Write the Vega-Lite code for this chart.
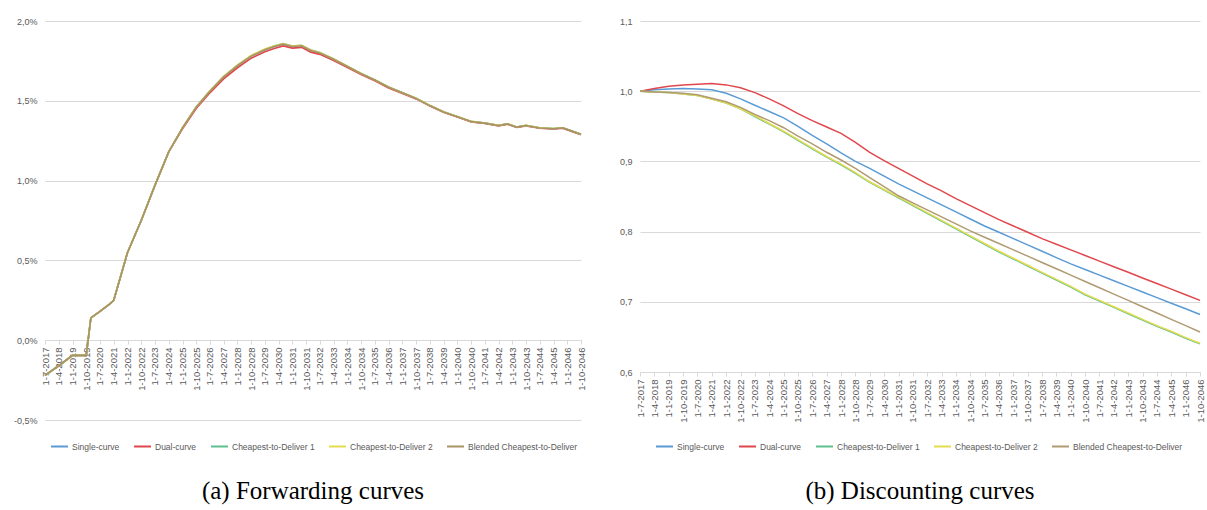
{
  "$schema": "https://vega.github.io/schema/vega-lite/v6.json",
  "background": "white",
  "padding": {"left": 13, "top": 17, "right": 4, "bottom": 2},
  "spacing": 33,
  "datasets": {
    "fwd": [
      {"date": "2017-07-01", "Single-curve": -0.22, "Dual-curve": -0.22, "Cheapest-to-Deliver 1": -0.22, "Cheapest-to-Deliver 2": -0.22, "Blended Cheapest-to-Deliver": -0.22},
      {"date": "2018-04-01", "Single-curve": -0.16, "Dual-curve": -0.16, "Cheapest-to-Deliver 1": -0.16, "Cheapest-to-Deliver 2": -0.16, "Blended Cheapest-to-Deliver": -0.16},
      {"date": "2019-01-01", "Single-curve": -0.095, "Dual-curve": -0.095, "Cheapest-to-Deliver 1": -0.095, "Cheapest-to-Deliver 2": -0.095, "Blended Cheapest-to-Deliver": -0.095},
      {"date": "2019-10-01", "Single-curve": -0.095, "Dual-curve": -0.095, "Cheapest-to-Deliver 1": -0.095, "Cheapest-to-Deliver 2": -0.095, "Blended Cheapest-to-Deliver": -0.095},
      {"date": "2020-01-01", "Single-curve": 0.14, "Dual-curve": 0.14, "Cheapest-to-Deliver 1": 0.14, "Cheapest-to-Deliver 2": 0.14, "Blended Cheapest-to-Deliver": 0.14},
      {"date": "2020-07-01", "Single-curve": 0.18, "Dual-curve": 0.18, "Cheapest-to-Deliver 1": 0.18, "Cheapest-to-Deliver 2": 0.18, "Blended Cheapest-to-Deliver": 0.18},
      {"date": "2021-01-01", "Single-curve": 0.225, "Dual-curve": 0.225, "Cheapest-to-Deliver 1": 0.225, "Cheapest-to-Deliver 2": 0.225, "Blended Cheapest-to-Deliver": 0.225},
      {"date": "2021-04-01", "Single-curve": 0.25, "Dual-curve": 0.25, "Cheapest-to-Deliver 1": 0.25, "Cheapest-to-Deliver 2": 0.25, "Blended Cheapest-to-Deliver": 0.25},
      {"date": "2022-01-01", "Single-curve": 0.55, "Dual-curve": 0.55, "Cheapest-to-Deliver 1": 0.55, "Cheapest-to-Deliver 2": 0.55, "Blended Cheapest-to-Deliver": 0.55},
      {"date": "2022-10-01", "Single-curve": 0.75, "Dual-curve": 0.75, "Cheapest-to-Deliver 1": 0.75, "Cheapest-to-Deliver 2": 0.75, "Blended Cheapest-to-Deliver": 0.75},
      {"date": "2023-07-01", "Single-curve": 0.97, "Dual-curve": 0.97, "Cheapest-to-Deliver 1": 0.97, "Cheapest-to-Deliver 2": 0.97, "Blended Cheapest-to-Deliver": 0.97},
      {"date": "2024-04-01", "Single-curve": 1.18, "Dual-curve": 1.18, "Cheapest-to-Deliver 1": 1.18, "Cheapest-to-Deliver 2": 1.18, "Blended Cheapest-to-Deliver": 1.18},
      {"date": "2025-01-01", "Single-curve": 1.33, "Dual-curve": 1.325, "Cheapest-to-Deliver 1": 1.332, "Cheapest-to-Deliver 2": 1.332, "Blended Cheapest-to-Deliver": 1.33},
      {"date": "2025-10-01", "Single-curve": 1.46, "Dual-curve": 1.452, "Cheapest-to-Deliver 1": 1.462, "Cheapest-to-Deliver 2": 1.462, "Blended Cheapest-to-Deliver": 1.46},
      {"date": "2026-07-01", "Single-curve": 1.56, "Dual-curve": 1.55, "Cheapest-to-Deliver 1": 1.562, "Cheapest-to-Deliver 2": 1.563, "Blended Cheapest-to-Deliver": 1.56},
      {"date": "2027-04-01", "Single-curve": 1.65, "Dual-curve": 1.637, "Cheapest-to-Deliver 1": 1.652, "Cheapest-to-Deliver 2": 1.653, "Blended Cheapest-to-Deliver": 1.65},
      {"date": "2028-01-01", "Single-curve": 1.72, "Dual-curve": 1.707, "Cheapest-to-Deliver 1": 1.723, "Cheapest-to-Deliver 2": 1.724, "Blended Cheapest-to-Deliver": 1.72},
      {"date": "2028-10-01", "Single-curve": 1.78, "Dual-curve": 1.767, "Cheapest-to-Deliver 1": 1.783, "Cheapest-to-Deliver 2": 1.784, "Blended Cheapest-to-Deliver": 1.78},
      {"date": "2029-07-01", "Single-curve": 1.82, "Dual-curve": 1.807, "Cheapest-to-Deliver 1": 1.823, "Cheapest-to-Deliver 2": 1.824, "Blended Cheapest-to-Deliver": 1.82},
      {"date": "2030-01-01", "Single-curve": 1.84, "Dual-curve": 1.828, "Cheapest-to-Deliver 1": 1.843, "Cheapest-to-Deliver 2": 1.844, "Blended Cheapest-to-Deliver": 1.84},
      {"date": "2030-07-01", "Single-curve": 1.855, "Dual-curve": 1.844, "Cheapest-to-Deliver 1": 1.858, "Cheapest-to-Deliver 2": 1.858, "Blended Cheapest-to-Deliver": 1.855},
      {"date": "2031-01-01", "Single-curve": 1.84, "Dual-curve": 1.83, "Cheapest-to-Deliver 1": 1.843, "Cheapest-to-Deliver 2": 1.843, "Blended Cheapest-to-Deliver": 1.84},
      {"date": "2031-07-01", "Single-curve": 1.845, "Dual-curve": 1.835, "Cheapest-to-Deliver 1": 1.848, "Cheapest-to-Deliver 2": 1.848, "Blended Cheapest-to-Deliver": 1.845},
      {"date": "2032-01-01", "Single-curve": 1.815, "Dual-curve": 1.805, "Cheapest-to-Deliver 1": 1.818, "Cheapest-to-Deliver 2": 1.818, "Blended Cheapest-to-Deliver": 1.815},
      {"date": "2032-07-01", "Single-curve": 1.8, "Dual-curve": 1.791, "Cheapest-to-Deliver 1": 1.802, "Cheapest-to-Deliver 2": 1.802, "Blended Cheapest-to-Deliver": 1.8},
      {"date": "2033-04-01", "Single-curve": 1.76, "Dual-curve": 1.752, "Cheapest-to-Deliver 1": 1.762, "Cheapest-to-Deliver 2": 1.762, "Blended Cheapest-to-Deliver": 1.76},
      {"date": "2034-01-01", "Single-curve": 1.715, "Dual-curve": 1.708, "Cheapest-to-Deliver 1": 1.716, "Cheapest-to-Deliver 2": 1.716, "Blended Cheapest-to-Deliver": 1.715},
      {"date": "2034-10-01", "Single-curve": 1.67, "Dual-curve": 1.664, "Cheapest-to-Deliver 1": 1.671, "Cheapest-to-Deliver 2": 1.671, "Blended Cheapest-to-Deliver": 1.67},
      {"date": "2035-07-01", "Single-curve": 1.63, "Dual-curve": 1.625, "Cheapest-to-Deliver 1": 1.631, "Cheapest-to-Deliver 2": 1.631, "Blended Cheapest-to-Deliver": 1.63},
      {"date": "2036-04-01", "Single-curve": 1.585, "Dual-curve": 1.58, "Cheapest-to-Deliver 1": 1.586, "Cheapest-to-Deliver 2": 1.586, "Blended Cheapest-to-Deliver": 1.585},
      {"date": "2037-01-01", "Single-curve": 1.55, "Dual-curve": 1.546, "Cheapest-to-Deliver 1": 1.551, "Cheapest-to-Deliver 2": 1.551, "Blended Cheapest-to-Deliver": 1.55},
      {"date": "2037-10-01", "Single-curve": 1.515, "Dual-curve": 1.512, "Cheapest-to-Deliver 1": 1.516, "Cheapest-to-Deliver 2": 1.516, "Blended Cheapest-to-Deliver": 1.515},
      {"date": "2038-07-01", "Single-curve": 1.47, "Dual-curve": 1.467, "Cheapest-to-Deliver 1": 1.471, "Cheapest-to-Deliver 2": 1.471, "Blended Cheapest-to-Deliver": 1.47},
      {"date": "2039-04-01", "Single-curve": 1.43, "Dual-curve": 1.428, "Cheapest-to-Deliver 1": 1.431, "Cheapest-to-Deliver 2": 1.431, "Blended Cheapest-to-Deliver": 1.43},
      {"date": "2040-01-01", "Single-curve": 1.4, "Dual-curve": 1.398, "Cheapest-to-Deliver 1": 1.401, "Cheapest-to-Deliver 2": 1.401, "Blended Cheapest-to-Deliver": 1.4},
      {"date": "2040-10-01", "Single-curve": 1.37, "Dual-curve": 1.368, "Cheapest-to-Deliver 1": 1.371, "Cheapest-to-Deliver 2": 1.371, "Blended Cheapest-to-Deliver": 1.37},
      {"date": "2041-07-01", "Single-curve": 1.36, "Dual-curve": 1.358, "Cheapest-to-Deliver 1": 1.361, "Cheapest-to-Deliver 2": 1.361, "Blended Cheapest-to-Deliver": 1.36},
      {"date": "2042-04-01", "Single-curve": 1.345, "Dual-curve": 1.343, "Cheapest-to-Deliver 1": 1.346, "Cheapest-to-Deliver 2": 1.346, "Blended Cheapest-to-Deliver": 1.345},
      {"date": "2042-10-01", "Single-curve": 1.355, "Dual-curve": 1.353, "Cheapest-to-Deliver 1": 1.356, "Cheapest-to-Deliver 2": 1.356, "Blended Cheapest-to-Deliver": 1.355},
      {"date": "2043-04-01", "Single-curve": 1.335, "Dual-curve": 1.333, "Cheapest-to-Deliver 1": 1.336, "Cheapest-to-Deliver 2": 1.336, "Blended Cheapest-to-Deliver": 1.335},
      {"date": "2043-10-01", "Single-curve": 1.345, "Dual-curve": 1.343, "Cheapest-to-Deliver 1": 1.346, "Cheapest-to-Deliver 2": 1.346, "Blended Cheapest-to-Deliver": 1.345},
      {"date": "2044-07-01", "Single-curve": 1.33, "Dual-curve": 1.328, "Cheapest-to-Deliver 1": 1.331, "Cheapest-to-Deliver 2": 1.331, "Blended Cheapest-to-Deliver": 1.33},
      {"date": "2045-04-01", "Single-curve": 1.325, "Dual-curve": 1.323, "Cheapest-to-Deliver 1": 1.326, "Cheapest-to-Deliver 2": 1.326, "Blended Cheapest-to-Deliver": 1.325},
      {"date": "2045-10-01", "Single-curve": 1.33, "Dual-curve": 1.328, "Cheapest-to-Deliver 1": 1.331, "Cheapest-to-Deliver 2": 1.331, "Blended Cheapest-to-Deliver": 1.33},
      {"date": "2046-04-01", "Single-curve": 1.31, "Dual-curve": 1.308, "Cheapest-to-Deliver 1": 1.311, "Cheapest-to-Deliver 2": 1.311, "Blended Cheapest-to-Deliver": 1.31},
      {"date": "2046-10-01", "Single-curve": 1.29, "Dual-curve": 1.288, "Cheapest-to-Deliver 1": 1.291, "Cheapest-to-Deliver 2": 1.291, "Blended Cheapest-to-Deliver": 1.29}
    ],
    "disc": [
      {"date": "2017-07-01", "Single-curve": 1.000, "Dual-curve": 1.000, "Cheapest-to-Deliver 1": 1.000, "Cheapest-to-Deliver 2": 1.000, "Blended Cheapest-to-Deliver": 1.000},
      {"date": "2018-04-01", "Single-curve": 1.002, "Dual-curve": 1.004, "Cheapest-to-Deliver 1": 0.999, "Cheapest-to-Deliver 2": 0.999, "Blended Cheapest-to-Deliver": 0.999},
      {"date": "2019-01-01", "Single-curve": 1.003, "Dual-curve": 1.007, "Cheapest-to-Deliver 1": 0.998, "Cheapest-to-Deliver 2": 0.998, "Blended Cheapest-to-Deliver": 0.998},
      {"date": "2019-10-01", "Single-curve": 1.004, "Dual-curve": 1.009, "Cheapest-to-Deliver 1": 0.996, "Cheapest-to-Deliver 2": 0.996, "Blended Cheapest-to-Deliver": 0.997},
      {"date": "2020-07-01", "Single-curve": 1.003, "Dual-curve": 1.010, "Cheapest-to-Deliver 1": 0.994, "Cheapest-to-Deliver 2": 0.994, "Blended Cheapest-to-Deliver": 0.995},
      {"date": "2021-04-01", "Single-curve": 1.002, "Dual-curve": 1.011, "Cheapest-to-Deliver 1": 0.989, "Cheapest-to-Deliver 2": 0.989, "Blended Cheapest-to-Deliver": 0.990},
      {"date": "2022-01-01", "Single-curve": 0.997, "Dual-curve": 1.009, "Cheapest-to-Deliver 1": 0.983, "Cheapest-to-Deliver 2": 0.983, "Blended Cheapest-to-Deliver": 0.985},
      {"date": "2022-10-01", "Single-curve": 0.989, "Dual-curve": 1.005, "Cheapest-to-Deliver 1": 0.975, "Cheapest-to-Deliver 2": 0.975, "Blended Cheapest-to-Deliver": 0.977},
      {"date": "2023-07-01", "Single-curve": 0.980, "Dual-curve": 0.998, "Cheapest-to-Deliver 1": 0.964, "Cheapest-to-Deliver 2": 0.965, "Blended Cheapest-to-Deliver": 0.967},
      {"date": "2024-04-01", "Single-curve": 0.971, "Dual-curve": 0.989, "Cheapest-to-Deliver 1": 0.953, "Cheapest-to-Deliver 2": 0.954, "Blended Cheapest-to-Deliver": 0.958},
      {"date": "2025-01-01", "Single-curve": 0.962, "Dual-curve": 0.979, "Cheapest-to-Deliver 1": 0.942, "Cheapest-to-Deliver 2": 0.943, "Blended Cheapest-to-Deliver": 0.948},
      {"date": "2025-10-01", "Single-curve": 0.950, "Dual-curve": 0.968, "Cheapest-to-Deliver 1": 0.930, "Cheapest-to-Deliver 2": 0.931, "Blended Cheapest-to-Deliver": 0.936},
      {"date": "2026-07-01", "Single-curve": 0.937, "Dual-curve": 0.958, "Cheapest-to-Deliver 1": 0.918, "Cheapest-to-Deliver 2": 0.919, "Blended Cheapest-to-Deliver": 0.925},
      {"date": "2027-04-01", "Single-curve": 0.925, "Dual-curve": 0.949, "Cheapest-to-Deliver 1": 0.906, "Cheapest-to-Deliver 2": 0.907, "Blended Cheapest-to-Deliver": 0.913},
      {"date": "2028-01-01", "Single-curve": 0.912, "Dual-curve": 0.940, "Cheapest-to-Deliver 1": 0.895, "Cheapest-to-Deliver 2": 0.896, "Blended Cheapest-to-Deliver": 0.902},
      {"date": "2028-10-01", "Single-curve": 0.900, "Dual-curve": 0.927, "Cheapest-to-Deliver 1": 0.883, "Cheapest-to-Deliver 2": 0.884, "Blended Cheapest-to-Deliver": 0.890},
      {"date": "2029-07-01", "Single-curve": 0.890, "Dual-curve": 0.913, "Cheapest-to-Deliver 1": 0.870, "Cheapest-to-Deliver 2": 0.871, "Blended Cheapest-to-Deliver": 0.877},
      {"date": "2030-04-01", "Single-curve": 0.879, "Dual-curve": 0.901, "Cheapest-to-Deliver 1": 0.859, "Cheapest-to-Deliver 2": 0.860, "Blended Cheapest-to-Deliver": 0.864},
      {"date": "2031-01-01", "Single-curve": 0.868, "Dual-curve": 0.890, "Cheapest-to-Deliver 1": 0.848, "Cheapest-to-Deliver 2": 0.849, "Blended Cheapest-to-Deliver": 0.851},
      {"date": "2031-10-01", "Single-curve": 0.858, "Dual-curve": 0.879, "Cheapest-to-Deliver 1": 0.837, "Cheapest-to-Deliver 2": 0.838, "Blended Cheapest-to-Deliver": 0.841},
      {"date": "2032-07-01", "Single-curve": 0.848, "Dual-curve": 0.868, "Cheapest-to-Deliver 1": 0.826, "Cheapest-to-Deliver 2": 0.827, "Blended Cheapest-to-Deliver": 0.831},
      {"date": "2033-04-01", "Single-curve": 0.838, "Dual-curve": 0.858, "Cheapest-to-Deliver 1": 0.815, "Cheapest-to-Deliver 2": 0.816, "Blended Cheapest-to-Deliver": 0.821},
      {"date": "2034-01-01", "Single-curve": 0.828, "Dual-curve": 0.847, "Cheapest-to-Deliver 1": 0.804, "Cheapest-to-Deliver 2": 0.805, "Blended Cheapest-to-Deliver": 0.811},
      {"date": "2034-10-01", "Single-curve": 0.818, "Dual-curve": 0.837, "Cheapest-to-Deliver 1": 0.793, "Cheapest-to-Deliver 2": 0.794, "Blended Cheapest-to-Deliver": 0.801},
      {"date": "2035-07-01", "Single-curve": 0.808, "Dual-curve": 0.827, "Cheapest-to-Deliver 1": 0.782, "Cheapest-to-Deliver 2": 0.783, "Blended Cheapest-to-Deliver": 0.792},
      {"date": "2036-04-01", "Single-curve": 0.799, "Dual-curve": 0.817, "Cheapest-to-Deliver 1": 0.771, "Cheapest-to-Deliver 2": 0.772, "Blended Cheapest-to-Deliver": 0.783},
      {"date": "2037-01-01", "Single-curve": 0.790, "Dual-curve": 0.808, "Cheapest-to-Deliver 1": 0.761, "Cheapest-to-Deliver 2": 0.762, "Blended Cheapest-to-Deliver": 0.774},
      {"date": "2037-10-01", "Single-curve": 0.781, "Dual-curve": 0.799, "Cheapest-to-Deliver 1": 0.751, "Cheapest-to-Deliver 2": 0.752, "Blended Cheapest-to-Deliver": 0.765},
      {"date": "2038-07-01", "Single-curve": 0.772, "Dual-curve": 0.790, "Cheapest-to-Deliver 1": 0.741, "Cheapest-to-Deliver 2": 0.742, "Blended Cheapest-to-Deliver": 0.756},
      {"date": "2039-04-01", "Single-curve": 0.763, "Dual-curve": 0.782, "Cheapest-to-Deliver 1": 0.731, "Cheapest-to-Deliver 2": 0.732, "Blended Cheapest-to-Deliver": 0.747},
      {"date": "2040-01-01", "Single-curve": 0.754, "Dual-curve": 0.774, "Cheapest-to-Deliver 1": 0.721, "Cheapest-to-Deliver 2": 0.722, "Blended Cheapest-to-Deliver": 0.738},
      {"date": "2040-10-01", "Single-curve": 0.746, "Dual-curve": 0.766, "Cheapest-to-Deliver 1": 0.710, "Cheapest-to-Deliver 2": 0.711, "Blended Cheapest-to-Deliver": 0.729},
      {"date": "2041-07-01", "Single-curve": 0.738, "Dual-curve": 0.758, "Cheapest-to-Deliver 1": 0.701, "Cheapest-to-Deliver 2": 0.702, "Blended Cheapest-to-Deliver": 0.720},
      {"date": "2042-04-01", "Single-curve": 0.730, "Dual-curve": 0.750, "Cheapest-to-Deliver 1": 0.692, "Cheapest-to-Deliver 2": 0.693, "Blended Cheapest-to-Deliver": 0.711},
      {"date": "2043-01-01", "Single-curve": 0.722, "Dual-curve": 0.742, "Cheapest-to-Deliver 1": 0.683, "Cheapest-to-Deliver 2": 0.684, "Blended Cheapest-to-Deliver": 0.702},
      {"date": "2043-10-01", "Single-curve": 0.714, "Dual-curve": 0.734, "Cheapest-to-Deliver 1": 0.674, "Cheapest-to-Deliver 2": 0.675, "Blended Cheapest-to-Deliver": 0.693},
      {"date": "2044-07-01", "Single-curve": 0.706, "Dual-curve": 0.726, "Cheapest-to-Deliver 1": 0.665, "Cheapest-to-Deliver 2": 0.666, "Blended Cheapest-to-Deliver": 0.684},
      {"date": "2045-04-01", "Single-curve": 0.698, "Dual-curve": 0.718, "Cheapest-to-Deliver 1": 0.657, "Cheapest-to-Deliver 2": 0.658, "Blended Cheapest-to-Deliver": 0.675},
      {"date": "2046-01-01", "Single-curve": 0.690, "Dual-curve": 0.710, "Cheapest-to-Deliver 1": 0.648, "Cheapest-to-Deliver 2": 0.649, "Blended Cheapest-to-Deliver": 0.666},
      {"date": "2046-10-01", "Single-curve": 0.682, "Dual-curve": 0.702, "Cheapest-to-Deliver 1": 0.640, "Cheapest-to-Deliver 2": 0.641, "Blended Cheapest-to-Deliver": 0.657}
    ]
  },
  "config": {
    "view": {"stroke": null},
    "font": "Liberation Sans",
    "axis": {
      "labelColor": "#595959",
      "labelFont": "Liberation Sans",
      "gridColor": "#d9d9d9",
      "domainColor": "#d9d9d9",
      "tickColor": "#d9d9d9",
      "title": null
    },
    "legend": {
      "orient": "none",
      "direction": "horizontal",
      "title": null,
      "symbolType": "stroke",
      "symbolSize": 289,
      "symbolStrokeWidth": 2,
      "labelFontSize": 8.5,
      "labelFont": "Liberation Sans",
      "labelColor": "#595959",
      "columnPadding": 10,
      "labelOffset": 3
    },
    "title": {
      "font": "Liberation Serif",
      "fontSize": 25,
      "fontWeight": "normal",
      "color": "#000000",
      "orient": "bottom",
      "anchor": "middle"
    }
  },
  "resolve": {"scale": {"x": "independent", "y": "independent", "color": "independent"}, "legend": {"color": "independent"}},
  "hconcat": [
    {
      "width": 536,
      "height": 399,
      "title": {"text": "(a) Forwarding curves", "offset": 28},
      "data": {"name": "fwd"},
      "transform": [
        {"fold": ["Single-curve", "Dual-curve", "Cheapest-to-Deliver 1", "Cheapest-to-Deliver 2", "Blended Cheapest-to-Deliver"], "as": ["series", "value"]}
      ],
      "mark": {"type": "line", "strokeWidth": 1.6},
      "encoding": {
        "x": {
          "field": "date",
          "type": "temporal",
          "scale": {"type": "utc", "domain": [{"year": 2017, "month": 7, "date": 1, "utc": true}, {"year": 2046, "month": 10, "date": 1, "utc": true}]},
          "axis": {
            "values": [
              {"year": 2017, "month": 7, "date": 1, "utc": true}, {"year": 2018, "month": 4, "date": 1, "utc": true}, {"year": 2019, "month": 1, "date": 1, "utc": true}, {"year": 2019, "month": 10, "date": 1, "utc": true},
              {"year": 2020, "month": 7, "date": 1, "utc": true}, {"year": 2021, "month": 4, "date": 1, "utc": true}, {"year": 2022, "month": 1, "date": 1, "utc": true}, {"year": 2022, "month": 10, "date": 1, "utc": true},
              {"year": 2023, "month": 7, "date": 1, "utc": true}, {"year": 2024, "month": 4, "date": 1, "utc": true}, {"year": 2025, "month": 1, "date": 1, "utc": true}, {"year": 2025, "month": 10, "date": 1, "utc": true},
              {"year": 2026, "month": 7, "date": 1, "utc": true}, {"year": 2027, "month": 4, "date": 1, "utc": true}, {"year": 2028, "month": 1, "date": 1, "utc": true}, {"year": 2028, "month": 10, "date": 1, "utc": true},
              {"year": 2029, "month": 7, "date": 1, "utc": true}, {"year": 2030, "month": 4, "date": 1, "utc": true}, {"year": 2031, "month": 1, "date": 1, "utc": true}, {"year": 2031, "month": 10, "date": 1, "utc": true},
              {"year": 2032, "month": 7, "date": 1, "utc": true}, {"year": 2033, "month": 4, "date": 1, "utc": true}, {"year": 2034, "month": 1, "date": 1, "utc": true}, {"year": 2034, "month": 10, "date": 1, "utc": true},
              {"year": 2035, "month": 7, "date": 1, "utc": true}, {"year": 2036, "month": 4, "date": 1, "utc": true}, {"year": 2037, "month": 1, "date": 1, "utc": true}, {"year": 2037, "month": 10, "date": 1, "utc": true},
              {"year": 2038, "month": 7, "date": 1, "utc": true}, {"year": 2039, "month": 4, "date": 1, "utc": true}, {"year": 2040, "month": 1, "date": 1, "utc": true}, {"year": 2040, "month": 10, "date": 1, "utc": true},
              {"year": 2041, "month": 7, "date": 1, "utc": true}, {"year": 2042, "month": 4, "date": 1, "utc": true}, {"year": 2043, "month": 1, "date": 1, "utc": true}, {"year": 2043, "month": 10, "date": 1, "utc": true},
              {"year": 2044, "month": 7, "date": 1, "utc": true}, {"year": 2045, "month": 4, "date": 1, "utc": true}, {"year": 2046, "month": 1, "date": 1, "utc": true}, {"year": 2046, "month": 10, "date": 1, "utc": true}
            ],
            "labelExpr": "utcFormat(datum.value, '%-d-%-m-%Y')",
            "labelAngle": 270,
            "labelAlign": "right",
            "labelBaseline": "middle",
            "labelFontSize": 9.5,
            "labelPadding": 3,
            "labelOverlap": false,
            "labelFlush": false,
            "tickSize": 4,
            "grid": false,
            "offset": -80
          }
        },
        "y": {
          "field": "value",
          "type": "quantitative",
          "scale": {"domain": [-0.5, 2.0], "nice": false, "zero": false},
          "axis": {
            "values": [-0.5, 0, 0.5, 1, 1.5, 2],
            "labelExpr": "replace(replace(format(datum.value, '.1f'), '.', ','), '\u2212', '-') + '%'",
            "domain": false,
            "ticks": false,
            "labelPadding": 8,
            "labelFontSize": 9,
            "grid": true
          }
        },
        "color": {
          "field": "series",
          "type": "nominal",
          "scale": {
            "domain": ["Single-curve", "Dual-curve", "Cheapest-to-Deliver 1", "Cheapest-to-Deliver 2", "Blended Cheapest-to-Deliver"],
            "range": ["#5B9BD5", "#E0474C", "#5CBF8F", "#E3DC4F", "#A99366"]
          },
          "legend": {"legendX": 5, "legendY": 416}
        }
      }
    },
    {
      "width": 560,
      "height": 351,
      "title": {"text": "(b) Discounting curves", "offset": 28},
      "data": {"name": "disc"},
      "transform": [
        {"fold": ["Single-curve", "Dual-curve", "Cheapest-to-Deliver 1", "Cheapest-to-Deliver 2", "Blended Cheapest-to-Deliver"], "as": ["series", "value"]}
      ],
      "mark": {"type": "line", "strokeWidth": 1.5},
      "encoding": {
        "x": {
          "field": "date",
          "type": "temporal",
          "scale": {"type": "utc", "domain": [{"year": 2017, "month": 7, "date": 1, "utc": true}, {"year": 2046, "month": 10, "date": 1, "utc": true}]},
          "axis": {
            "values": [
              {"year": 2017, "month": 7, "date": 1, "utc": true}, {"year": 2018, "month": 4, "date": 1, "utc": true}, {"year": 2019, "month": 1, "date": 1, "utc": true}, {"year": 2019, "month": 10, "date": 1, "utc": true},
              {"year": 2020, "month": 7, "date": 1, "utc": true}, {"year": 2021, "month": 4, "date": 1, "utc": true}, {"year": 2022, "month": 1, "date": 1, "utc": true}, {"year": 2022, "month": 10, "date": 1, "utc": true},
              {"year": 2023, "month": 7, "date": 1, "utc": true}, {"year": 2024, "month": 4, "date": 1, "utc": true}, {"year": 2025, "month": 1, "date": 1, "utc": true}, {"year": 2025, "month": 10, "date": 1, "utc": true},
              {"year": 2026, "month": 7, "date": 1, "utc": true}, {"year": 2027, "month": 4, "date": 1, "utc": true}, {"year": 2028, "month": 1, "date": 1, "utc": true}, {"year": 2028, "month": 10, "date": 1, "utc": true},
              {"year": 2029, "month": 7, "date": 1, "utc": true}, {"year": 2030, "month": 4, "date": 1, "utc": true}, {"year": 2031, "month": 1, "date": 1, "utc": true}, {"year": 2031, "month": 10, "date": 1, "utc": true},
              {"year": 2032, "month": 7, "date": 1, "utc": true}, {"year": 2033, "month": 4, "date": 1, "utc": true}, {"year": 2034, "month": 1, "date": 1, "utc": true}, {"year": 2034, "month": 10, "date": 1, "utc": true},
              {"year": 2035, "month": 7, "date": 1, "utc": true}, {"year": 2036, "month": 4, "date": 1, "utc": true}, {"year": 2037, "month": 1, "date": 1, "utc": true}, {"year": 2037, "month": 10, "date": 1, "utc": true},
              {"year": 2038, "month": 7, "date": 1, "utc": true}, {"year": 2039, "month": 4, "date": 1, "utc": true}, {"year": 2040, "month": 1, "date": 1, "utc": true}, {"year": 2040, "month": 10, "date": 1, "utc": true},
              {"year": 2041, "month": 7, "date": 1, "utc": true}, {"year": 2042, "month": 4, "date": 1, "utc": true}, {"year": 2043, "month": 1, "date": 1, "utc": true}, {"year": 2043, "month": 10, "date": 1, "utc": true},
              {"year": 2044, "month": 7, "date": 1, "utc": true}, {"year": 2045, "month": 4, "date": 1, "utc": true}, {"year": 2046, "month": 1, "date": 1, "utc": true}, {"year": 2046, "month": 10, "date": 1, "utc": true}
            ],
            "labelExpr": "utcFormat(datum.value, '%-d-%-m-%Y')",
            "labelAngle": 270,
            "labelAlign": "right",
            "labelBaseline": "middle",
            "labelFontSize": 9.5,
            "labelPadding": 3,
            "labelOverlap": false,
            "labelFlush": false,
            "tickSize": 4,
            "grid": false
          }
        },
        "y": {
          "field": "value",
          "type": "quantitative",
          "scale": {"domain": [0.6, 1.1], "nice": false, "zero": false},
          "axis": {
            "values": [0.6, 0.7, 0.8, 0.9, 1.0, 1.1],
            "labelExpr": "replace(format(datum.value, '.1f'), '.', ',')",
            "domain": false,
            "ticks": false,
            "labelPadding": 8,
            "labelFontSize": 9,
            "grid": true
          }
        },
        "color": {
          "field": "series",
          "type": "nominal",
          "scale": {
            "domain": ["Single-curve", "Dual-curve", "Cheapest-to-Deliver 1", "Cheapest-to-Deliver 2", "Blended Cheapest-to-Deliver"],
            "range": ["#5B9BD5", "#E0474C", "#5CBF8F", "#E3DC4F", "#B09A72"]
          },
          "legend": {"legendX": 15, "legendY": 416}
        }
      }
    }
  ]
}
